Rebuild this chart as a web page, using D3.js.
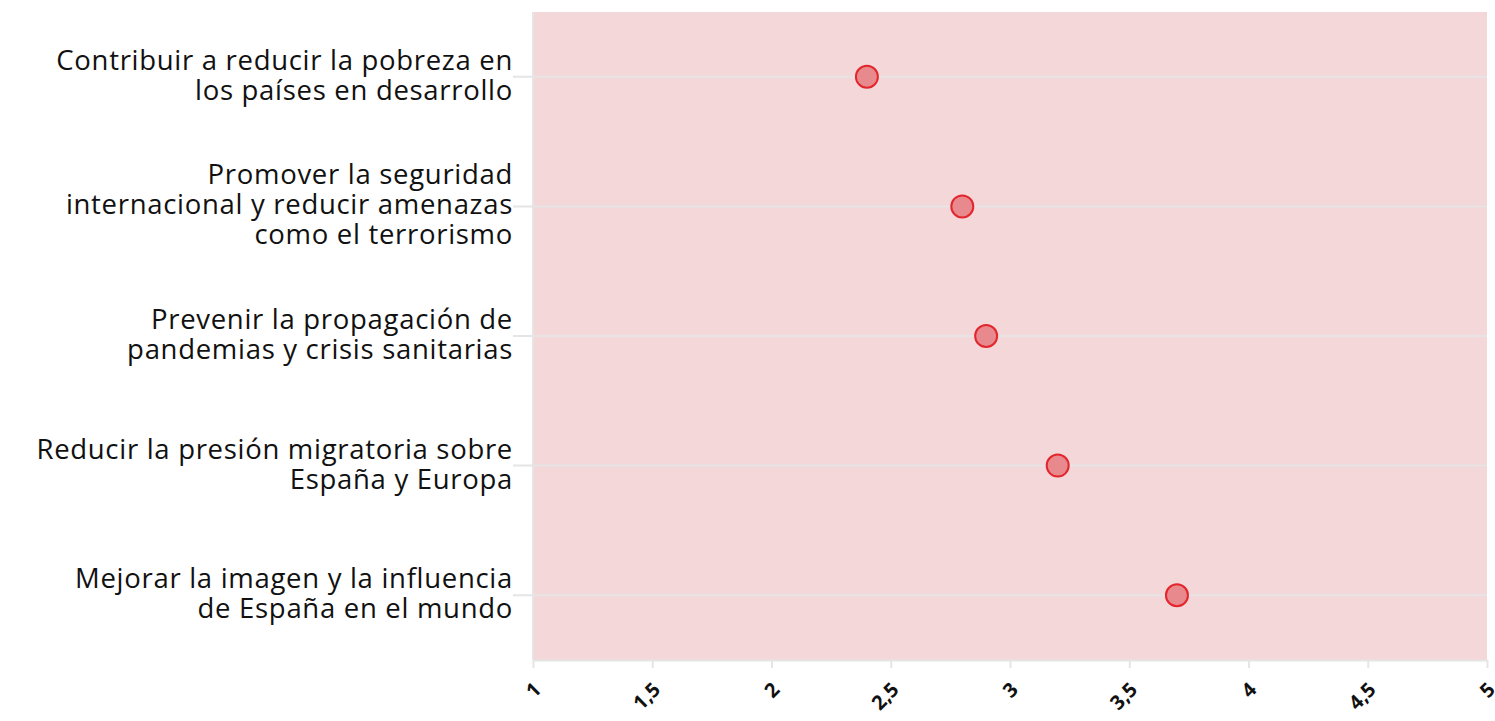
<!DOCTYPE html>
<html>
<head>
<meta charset="utf-8">
<script src="https://cdn.jsdelivr.net/npm/d3@7"></script>
<style>
  body { margin: 0; background: #fff; }
  text { font-family: "Open Sans", Lato, sans-serif; }
</style>
</head>
<body>
<svg id="chart"></svg>
<script>
// Data
const categories = [
  ["Contribuir a reducir la pobreza en", "los países en desarrollo"],
  ["Promover la seguridad", "internacional y reducir amenazas", "como el terrorismo"],
  ["Prevenir la propagación de", "pandemias y crisis sanitarias"],
  ["Reducir la presión migratoria sobre", "España y Europa"],
  ["Mejorar la imagen y la influencia", "de España en el mundo"]
];
const values = [2.4, 2.8, 2.9, 3.2, 3.7];
const xTicks = [1, 1.5, 2, 2.5, 3, 3.5, 4, 4.5, 5];

const width = 1495;
const height = 721;
const margin = { top: 12, right: 8, bottom: 61, left: 533 };
const innerW = width - margin.left - margin.right;
const innerH = height - margin.top - margin.bottom;

const svg = d3.select("#chart").attr("width", width).attr("height", height);
const g = svg.append("g").attr("transform", `translate(${margin.left},${margin.top})`);

const x = d3.scaleLinear().domain([1, 5]).range([0, innerW]);
const y = d3.scaleBand().domain(d3.range(categories.length)).range([0, innerH]);

// background
g.append("rect")
  .attr("width", innerW)
  .attr("height", innerH)
  .attr("fill", "#f4d7d9");

// left border line
g.append("line")
  .attr("x1", 0).attr("x2", 0)
  .attr("y1", 0).attr("y2", innerH)
  .attr("stroke", "#e6e4e4")
  .attr("stroke-width", 2);

// horizontal grid lines + ticks
g.append("g")
  .selectAll("line")
  .data(d3.range(categories.length))
  .join("line")
  .attr("x1", -20)
  .attr("x2", innerW)
  .attr("y1", (d) => y(d) + y.bandwidth() / 2)
  .attr("y2", (d) => y(d) + y.bandwidth() / 2)
  .attr("stroke", "#e6e4e4")
  .attr("stroke-width", 2);

// category labels
const lineH = 30;
g.append("g")
  .selectAll("text")
  .data(categories)
  .join("text")
  .attr("text-anchor", "end")
  .style("font-size", "27.5px")
  .style("letter-spacing", "0.7px")
  .attr("fill", "#111")
  .each(function (lines, i) {
    const cy = y(i) + y.bandwidth() / 2;
    const startY = cy - ((lines.length - 1) / 2) * lineH + 8;
    lines.forEach((line, j) => {
      d3.select(this)
        .append("tspan")
        .attr("x", -20)
        .attr("y", startY + j * lineH)
        .text(line);
    });
  });

// x axis
const xAxis = g.append("g")
  .attr("transform", `translate(0,${innerH})`)
  .call(d3.axisBottom(x).tickValues(xTicks).tickSize(8).tickSizeOuter(0)
    .tickFormat((d) => String(d).replace(".", ",")));
xAxis.select(".domain").attr("stroke", "#e6e4e4").attr("stroke-width", 2);
xAxis.selectAll(".tick line").attr("stroke", "#e6e4e4").attr("stroke-width", 2);
xAxis.selectAll(".tick text")
  .style("font-size", "20px")
  .style("font-weight", "bold")
  .attr("fill", "#111")
  .attr("text-anchor", "end")
  .attr("x", 0)
  .attr("y", 0)
  .attr("dy", "0.35em")
  .attr("transform", "translate(4,26) rotate(-45)");

// points
g.append("g")
  .selectAll("circle")
  .data(values)
  .join("circle")
  .attr("cx", (d) => x(d))
  .attr("cy", (d, i) => y(i) + y.bandwidth() / 2)
  .attr("r", 11)
  .attr("fill", "#e8898d")
  .attr("stroke", "#e2262c")
  .attr("stroke-width", 2);
</script>
</body>
</html>
